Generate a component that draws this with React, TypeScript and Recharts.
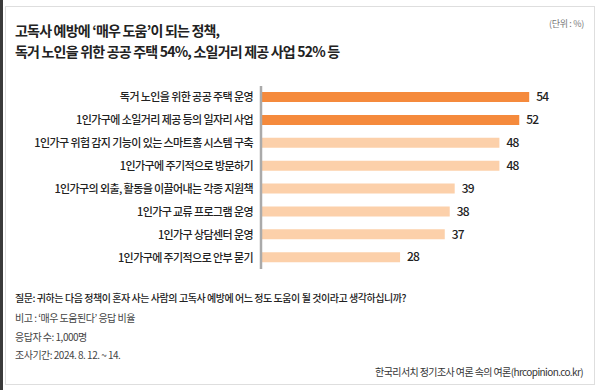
import React from 'react'
import { BarChart, Bar, XAxis, YAxis, LabelList, Cell } from 'recharts'

const categories = [
  '독거 노인을 위한 공공 주택 운영',
  '1인가구에 소일거리 제공 등의 일자리 사업',
  '1인가구 위험 감지 기능이 있는 스마트홈 시스템 구축',
  '1인가구에 주기적으로 방문하기',
  '1인가구의 외출, 활동을 이끌어내는 각종 지원책',
  '1인가구 교류 프로그램 운영',
  '1인가구 상담센터 운영',
  '1인가구에 주기적으로 안부 묻기',
]
const values = [54, 52, 48, 48, 39, 38, 37, 28]
const highlighted = [true, true, false, false, false, false, false, false]

const notes = [
  '비고 : ‘매우 도움된다’ 응답 비율',
  '응답자 수: 1,000명',
  '조사기간: 2024. 8. 12. ~ 14.',
]

const FONT = '"Noto Sans CJK KR", "Noto Sans", sans-serif'
const DARK = '#f58a3c'
const LIGHT = '#fcd0aa'

const data = categories.map((name, i) => ({ name, value: values[i], hi: highlighted[i] }))

// 줄바꿈 없이 한 줄로 그리는 축 라벨
function CategoryTick(props: any) {
  const { x, y, payload } = props
  return (
    <text x={x} y={y} dy={4} textAnchor="end" fontSize={11} fill="#222" fontWeight={500} fontFamily={FONT} letterSpacing={-0.6}>
      {payload.value}
    </text>
  )
}

export default function App() {
  return (
    <div style={{ position: 'absolute', left: 0, top: 0, width: 600, height: 390, background: '#fff', fontFamily: FONT, overflow: 'hidden' }}>
      <div style={{ position: 'absolute', left: 0, top: 0, width: 3, height: 390, background: '#3a3a3a' }} />
      <div style={{ position: 'absolute', left: 5, top: 6, width: 588, height: 377, border: '1px solid #dedede' }} />

      <div style={{ position: 'absolute', left: 15, top: 20, fontSize: 14, fontWeight: 700, color: '#222', lineHeight: '21px', letterSpacing: -0.8 }}>
        고독사 예방에 ‘매우 도움’이 되는 정책,
        <br />
        독거 노인을 위한 공공 주택 54%, 소일거리 제공 사업 52% 등
      </div>
      <div style={{ position: 'absolute', right: 16, top: 17, fontSize: 9, color: '#777', letterSpacing: -0.3 }}>(단위 : %)</div>

      <div style={{ position: 'absolute', left: 0, top: 0 }}>
        <BarChart
          width={600}
          height={300}
          layout="vertical"
          data={data}
          margin={{ top: 86, right: 41, bottom: 31, left: 0 }}
          barSize={10}
        >
          <XAxis type="number" domain={[0, 60]} hide />
          <YAxis
            type="category"
            dataKey="name"
            width={261}
            axisLine={{ stroke: '#aaa', strokeWidth: 2.5 }}
            tickLine={false}
            interval={0}
            tick={<CategoryTick />}
          />
          <Bar dataKey="value" isAnimationActive={false}>
            {data.map((d, i) => (
              <Cell key={i} fill={d.hi ? DARK : LIGHT} />
            ))}
            <LabelList dataKey="value" position="right" offset={7} style={{ fontSize: 12, fill: '#222', fontWeight: 500, fontFamily: FONT, letterSpacing: -0.8 }} />
          </Bar>
        </BarChart>
      </div>

      <div style={{ position: 'absolute', left: 15, top: 290, fontSize: 10, color: '#222', fontWeight: 500, letterSpacing: -0.45, lineHeight: '16px' }}>
        질문: 귀하는 다음 정책이 혼자 사는 사람의 고독사 예방에 어느 정도 도움이 될 것이라고 생각하십니까?
      </div>
      {notes.map((t, i) => (
        <div key={i} style={{ position: 'absolute', left: 15, top: 310 + i * 18.5, fontSize: 10, color: '#444', letterSpacing: -0.5, lineHeight: '16px' }}>
          {t}
        </div>
      ))}
      <div style={{ position: 'absolute', right: 17, top: 364, fontSize: 10, color: '#333', letterSpacing: -0.6, lineHeight: '16px' }}>
        한국리서치 정기조사 여론 속의 여론(hrcopinion.co.kr)
      </div>
    </div>
  )
}
